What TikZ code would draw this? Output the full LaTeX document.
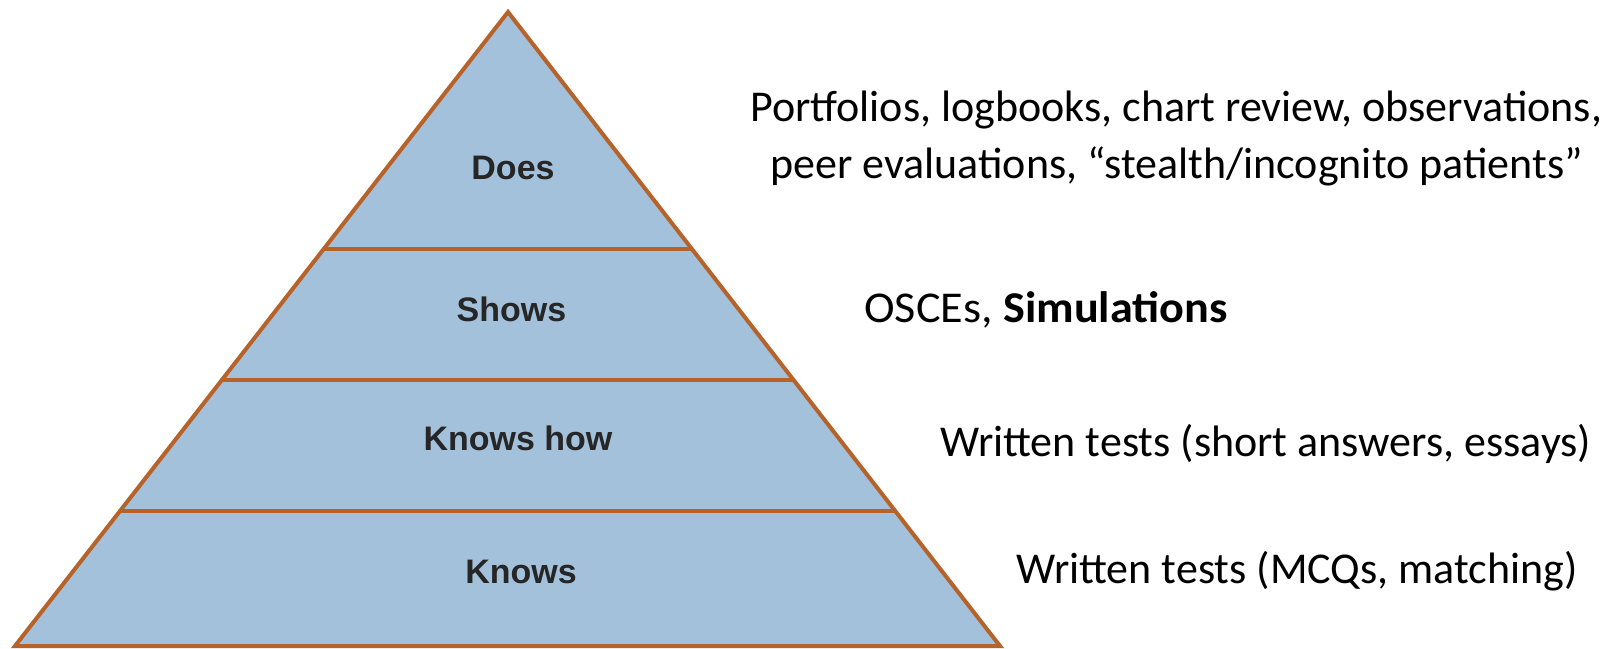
\documentclass[tikz,border=0pt]{standalone}
\usepackage{fontspec}
\setmainfont{Carlito}
\newfontfamily\arialfont{Liberation Sans}
\definecolor{pyrfill}{RGB}{164,193,219}
\definecolor{pyrline}{RGB}{183,98,40}
\definecolor{lbl}{RGB}{38,38,38}
\begin{document}
\begin{tikzpicture}[x=1pt,y=-1pt,
  layerlabel/.style={anchor=base,text=lbl,font=\arialfont\bfseries\fontsize{34}{40}\selectfont,inner sep=0pt},
  methodtext/.style={anchor=base west,text=black,font=\fontsize{44}{57}\selectfont,inner sep=0pt},
  pyredge/.style={draw=pyrline,line width=4pt}]
\useasboundingbox (0,0) rectangle (1617,648);
\coordinate (apex) at (508,12);
\coordinate (bl) at (15,646);
\coordinate (br) at (1000,646);
\fill[pyrfill] (apex) -- (bl) -- (br) -- cycle;
% division lines
\coordinate (La) at (323.7,249); \coordinate (Ra) at (691.9,249);
\coordinate (Lb) at (221.8,380); \coordinate (Rb) at (793.6,380);
\coordinate (Lc) at (120.0,511); \coordinate (Rc) at (895.2,511);
\draw[pyredge] (La) -- (Ra);
\draw[pyredge] (Lb) -- (Rb);
\draw[pyredge] (Lc) -- (Rc);
\draw[pyredge,line join=miter] (apex) -- (bl) -- (br) -- cycle;
\node[layerlabel] (does) at (513,179) {Does};
\node[layerlabel] (shows) at (511.5,321.5) {Shows};
\node[layerlabel] (knowshow) at (518,450) {Knows how};
\node[layerlabel] (knows) at (521,583) {Knows};
\node[methodtext] (m1) at (750,121) {Portfolios, logbooks, chart review, observations,};
\node[methodtext] (m2) at (770,178) {peer evaluations, “stealth/incognito patients”};
\node[methodtext,xscale=1.05] (m3) at (864,322) {OSCEs, \textbf{Simulations}};
\node[methodtext] (m4) at (940,456) {Written tests (short answers, essays)};
\node[methodtext] (m5) at (1016,583) {Written tests (MCQs, matching)};
\end{tikzpicture}
\end{document}
